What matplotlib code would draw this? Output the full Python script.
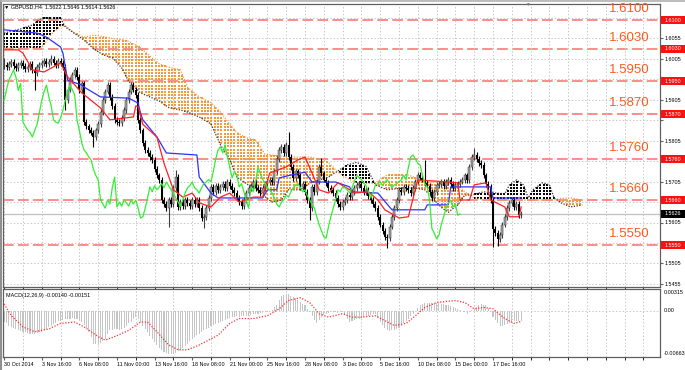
import numpy as np
import matplotlib
matplotlib.use("Agg")
import matplotlib.pyplot as plt
import matplotlib.transforms as mtransforms
from matplotlib.patches import Rectangle
from matplotlib.lines import Line2D

plt.rcParams['font.family'] = ['Liberation Sans', 'DejaVu Sans']

# GBPUSD H4 closes, pips above 1.5000, bar 0 = 30 Oct 2014 00:00
closes = [990, 985, 992, 998, 988, 982, 990, 995, 988, 980,
          985, 992, 978, 970, 985, 990, 995, 1000, 992, 998,
          1005, 996, 990, 1000, 995, 985, 904, 930, 953, 965,
          978, 960, 928, 945, 850, 840, 831, 825, 814, 830,
          845, 875, 904, 925, 941, 912, 890, 856, 850, 848,
          861, 880, 904, 925, 941, 930, 917, 856, 830, 800,
          782, 775, 765, 758, 735, 720, 709, 660, 650, 640,
          660, 650, 690, 716, 643, 655, 645, 660, 653, 645,
          660, 650, 660, 640, 616, 619, 640, 665, 692, 680,
          695, 685, 692, 700, 690, 704, 695, 685, 677, 665,
          655, 645, 660, 677, 690, 695, 704, 690, 685, 677,
          690, 700, 704, 710, 704, 730, 760, 782, 790, 775,
          795, 765, 740, 714, 730, 720, 692, 700, 680, 660,
          640, 692, 680, 705, 741, 725, 710, 702, 690, 685,
          677, 665, 650, 643, 655, 660, 672, 667, 680, 690,
          697, 700, 690, 680, 685, 670, 660, 650, 640, 619,
          600, 585, 570, 567, 595, 619, 640, 660, 685, 680,
          692, 690, 685, 677, 690, 705, 721, 715, 710, 702,
          695, 680, 665, 680, 697, 700, 704, 695, 704, 710,
          700, 690, 697, 700, 705, 709, 720, 709, 740, 765,
          770, 760, 750, 745, 720, 700, 692, 660, 590, 579,
          565, 574, 600, 619, 640, 653, 660, 643, 650, 623,
          626]
first_open = 988
hi_bars = [0, 20, 54, 73, 121, 135, 179, 200]
hi_vals = [1007, 1015, 948, 733, 826, 763, 758, 787]
lo_bars = [13, 26, 38, 70, 85, 130, 163, 208, 210]
lo_vals = [929, 880, 790, 594, 591, 611, 543, 545, 548]

kijun_bars = [0, 14, 18, 24, 25, 27, 33, 34, 41, 53, 57, 58, 59, 65, 69, 82, 83, 88, 91,
              110, 112, 116, 117, 122, 128, 131, 141, 147, 148, 159, 165, 179, 180, 189,
              190, 207, 208, 220]
kijun = [1076, 1068, 1058, 1034, 1019, 953, 941, 936, 912, 909, 897, 873, 856, 814, 775,
         770, 716, 677, 665, 665, 685, 685, 714, 721, 728, 704, 704, 692, 680, 677, 636,
         636, 648, 648, 692, 692, 665, 665]

tenkan_bars = [0, 6, 8, 12, 17, 24, 27, 33, 41, 45, 55, 56, 57, 59, 65, 68, 72, 76, 80,
               83, 88, 92, 96, 100, 106, 110, 113, 120, 125, 128, 131, 134, 138, 142, 147,
               149, 155, 159, 162, 168, 172, 176, 189, 193, 194, 198, 200, 205, 207, 213,
               215, 219, 220]
tenkan = [1027, 1027, 1019, 978, 973, 995, 961, 922, 885, 856, 863, 890, 888, 845, 814,
          750, 685, 667, 677, 653, 643, 667, 677, 655, 667, 667, 726, 741, 758, 765, 726,
          685, 677, 702, 685, 677, 680, 660, 636, 616, 619, 709, 704, 702, 660, 660, 697,
          702, 660, 643, 619, 619, 643]

cloud_bars = [0, 8, 12, 16, 20, 24, 26, 30, 34, 38, 42, 46, 50, 53, 58, 62, 66, 70, 75,
              78, 83, 88, 92, 96, 99, 103, 107, 111, 114, 118, 121, 126, 130, 134, 138,
              142, 146, 150, 154, 158, 163, 168, 172, 176, 179, 183, 186, 189, 193, 196,
              199, 204, 209, 213, 215, 218, 221, 223, 225, 229, 232, 234, 237, 241, 246]
span_a = [1068, 1080, 1088, 1105, 1105, 1105, 1083, 1067, 1051, 1030, 1015, 1008, 983,
          950, 922, 912, 902, 886, 880, 875, 863, 846, 795, 758, 716, 700, 688, 668, 655,
          660, 685, 685, 701, 709, 716, 731, 746, 752, 742, 697, 685, 688, 690, 688, 685,
          660, 642, 630, 648, 672, 672, 680, 677, 675, 697, 709, 697, 665, 685, 702, 697,
          665, 653, 643, 648]
span_b = [1032, 1032, 1032, 1032, 1065, 1085, 1086, 1068, 1058, 1063, 1060, 1055, 1052,
          1048, 1032, 1012, 993, 985, 978, 936, 912, 898, 875, 845, 825, 812, 806, 772,
          770, 767, 765, 765, 765, 760, 752, 728, 713, 702, 700, 702, 721, 721, 721, 712,
          702, 704, 702, 700, 697, 680, 667, 660, 660, 660, 660, 660, 660, 660, 660, 660,
          660, 660, 664, 665, 660]

# MACD(12,26,9) main, units of 0.0001
macd_hist = [-16, -18, -21, -23, -25, -26, -28, -29, -30, -31,
             -32, -33, -33, -33, -32, -31, -30, -28, -26, -23,
             -21, -19, -17, -15, -14, -13, -12, -11, -11, -10,
             -11, -12, -14, -16, -20, -25, -30, -38, -47, -48,
             -49, -46, -43, -40, -33, -28, -27, -26, -26, -27,
             -26, -24, -21, -18, -16, -12, -9, -12, -16, -21,
             -26, -30, -36, -41, -45, -49, -53, -56, -59, -61,
             -62, -62, -62, -60, -58, -56, -54, -50, -47, -43,
             -40, -38, -35, -33, -31, -28, -26, -24, -22, -20,
             -19, -17, -16, -14, -13, -12, -10, -9, -9, -8,
             -9, -8, -8, -8, -7, -6, -5, -4, -4, -3,
             -3, -2, -2, 0, 2, 5, 8, 15, 22, 23,
             24, 24, 22, 20, 19, 16, 13, 10, 8, 3,
             -2, -7, -13, -18, -13, -9, -6, -4, -3, -2,
             -2, -2, -3, -2, -2, -6, -11, -16, -15, -13,
             -12, -11, -10, -9, -8, -7, -6, -5, -4, -10,
             -16, -20, -24, -28, -29, -28, -28, -26, -24, -21,
             -17, -14, -11, -7, -4, 0, 4, 8, 10, 11,
             12, 12, 12, 12, 12, 11, 10, 10, 9, 8,
             7, 6, 4, 3, 1, 0, -2, -4, -1, 1,
             3, 6, 8, 10, 9, 8, 4, -2, -9, -13,
             -17, -21, -21, -20, -19, -17, -16, -14, -14, -14,
             -14]
sig_bars = [0, 3, 8, 13, 19, 24, 30, 34, 40, 43, 47, 53, 58, 61, 65, 70, 74, 78, 83, 91,
            96, 100, 106, 112, 117, 121, 126, 130, 134, 138, 144, 148, 152, 158, 162, 166,
            171, 175, 179, 184, 192, 196, 200, 204, 208, 213, 217, 220]
sig_vals = [10, -7, -23, -30, -26, -18, -16, -23, -37, -42, -37, -28, -16, -16, -30, -49,
            -56, -56, -49, -35, -18, -11, -11, -7, 3, 15, 19, 12, -4, -9, -4, -9, -9, -7,
            -14, -21, -18, -7, 5, 12, 15, 12, 3, 5, 3, -11, -18, -15]

levels = [1.6100, 1.6030, 1.5950, 1.5870, 1.5760, 1.5660, 1.5550]
price_ticks = [1.6105, 1.6055, 1.6005, 1.5955, 1.5905, 1.5855, 1.5805, 1.5755,
               1.5705, 1.5655, 1.5605, 1.5555, 1.5505, 1.5455]
date_labels = ["30 Oct 2014", "3 Nov 16:00", "6 Nov 08:00", "11 Nov 00:00", "13 Nov 16:00",
               "18 Nov 08:00", "21 Nov 00:00", "25 Nov 16:00", "28 Nov 08:00", "3 Dec 00:00",
               "5 Dec 16:00", "10 Dec 08:00", "15 Dec 00:00", "17 Dec 16:00"]
last_price = 1.5626
header = "\u25bc GBPUSD,H4  1.5622 1.5646 1.5614 1.5626"
macd_title = "MACD(12,26,9) -0.00140 -0.00151"
macd_top, macd_bot = 0.00315, -0.00663


def px(p):
    return 1.5 + np.asarray(p, dtype=float) / 10000.0


W, H = 685, 370
fig = plt.figure(figsize=(W / 100, H / 100), dpi=100)
ax = fig.add_axes([3 / W, 1 - 287 / H, 657 / W, 283 / H])
ax2 = fig.add_axes([3 / W, 13 / H, 657 / W, 68 / H])

# window border, left and top
fig.add_artist(Line2D([1 / W, 1 / W], [0, 1], color='#909090', lw=1.5))
fig.add_artist(Line2D([0, 1], [1 - 1 / H, 1 - 1 / H], color='#b0b0b0', lw=1.2))

xmin, xmax = -0.5, (660 - 4.2) / 2.35
pp = 0.055 / 225  # price per pixel
ax.set_xlim(xmin, xmax)
ax.set_ylim(1.61 - 267 * pp, 1.61 + 16 * pp)
ax2.set_xlim(xmin, xmax)
ax2.set_ylim(macd_bot, macd_top)

grid_kw = dict(color='#c8c8c8', ls=(0, (1.5, 2)), lw=0.7)
for a in (ax, ax2):
    a.set_xticks(np.arange(0, xmax, 8), minor=True)
    a.grid(True, which='minor', axis='x', **grid_kw)
    for s in a.spines.values():
        s.set_color('#606060')
        s.set_linewidth(0.9)

# price grid and right axis labels (the ones under the level tags are hidden)
hidden = [min(abs(t - lv) for lv in levels + [last_price]) < 8 * pp for t in price_ticks]
ax.set_yticks(price_ticks)
ax.set_yticklabels(['' if h else f"{t:.4f}" for t, h in zip(price_ticks, hidden)])
ax.grid(True, which='major', axis='y', **grid_kw)
ax.tick_params(axis='y', left=False, right=True, labelleft=False, labelright=True,
               labelsize=3.9, length=2, pad=1.5, color='#606060')
ax.set_xticks([])

# cloud (hatched with dots)
ca, cb = px(span_a), px(span_b)
xb = np.arange(0, cloud_bars[-1] + 0.01, 1.4)
yb = np.arange(1.54, 1.62, 3.2 * pp)
X, Y = np.meshgrid(xb, yb)
A = np.interp(X, cloud_bars, ca)
B = np.interp(X, cloud_bars, cb)
m_or = (Y > A) & (Y < B)
m_bk = (Y > B) & (Y < A)
ax.scatter(X[m_or], Y[m_or], s=0.6, marker='s', color='#f59a3c', lw=0, zorder=2)
ax.scatter(X[m_bk], Y[m_bk], s=0.8, marker='s', color='#000000', lw=0, zorder=2)
ax.plot(cloud_bars, cb, color='#f59a3c', ls=(0, (1, 1.2)), lw=0.9, zorder=2)
ax.plot(cloud_bars, ca, color='#303030', ls=(0, (1, 1.2)), lw=0.9, zorder=2)

# levels
trans = mtransforms.blended_transform_factory(ax.transAxes, ax.transData)
for lv in levels:
    ax.axhline(lv, color='#ff8c8c', ls=(0, (5.5, 2.2)), lw=1.4, zorder=1)
    ax.text((609 - 4.2) / 2.35, lv + 5 * pp, f"{lv:.4f}", color='#ff5a1e', fontsize=9.5,
            ha='left', va='bottom', zorder=6)
    ax.add_patch(Rectangle((1.0015, lv - 4 * pp), 24 / 657, 8 * pp, transform=trans,
                           facecolor='#ff1010', edgecolor='none', clip_on=False, zorder=7))
    ax.text(1.0015 + 12 / 657, lv, f"{lv:.4f}", transform=trans, color='white',
            fontsize=3.9, ha='center', va='center', clip_on=False, zorder=8)

# bid line
ax.axhline(last_price, color='#c0c0c0', lw=0.9, zorder=1)
ax.add_patch(Rectangle((1.0015, last_price - 4 * pp), 24 / 657, 8 * pp, transform=trans,
                       facecolor='black', edgecolor='none', clip_on=False, zorder=7))
ax.text(1.0015 + 12 / 657, last_price, f"{last_price:.4f}", transform=trans, color='white',
        fontsize=3.9, ha='center', va='center', clip_on=False, zorder=8)

# candles
c = px(closes)
n = len(c)
o = np.r_[px(first_open), c[:-1]]
wick = 7e-4
hi = np.maximum(o, c) + wick
lo = np.minimum(o, c) - wick
hi[hi_bars] = px(hi_vals)
lo[lo_bars] = px(lo_vals)
x = np.arange(n)
up = c >= o
ax.vlines(x[up], lo[up], hi[up], color='#404040', lw=0.8, zorder=3)
ax.vlines(x[~up], lo[~up], hi[~up], color='black', lw=0.8, zorder=3)
body = np.where(np.abs(c - o) < 1.5e-4, 1.5e-4, c - o)
ax.bar(x[up], body[up], bottom=o[up], width=0.85, color='#a8a8a8', edgecolor='#303030',
       lw=0.35, zorder=4)
ax.bar(x[~up], body[~up], bottom=o[~up], width=0.85, color='black', lw=0, zorder=4)

# ichimoku lines
ax.plot(kijun_bars, px(kijun), color='#3030ff', lw=0.9, zorder=5)
ax.plot(tenkan_bars, px(tenkan), color='#ff2020', lw=0.9, zorder=5)
ax.plot(x[:n - 26], c[26:], color='#33ee33', lw=0.9, zorder=5)

fig.text(4 / W, 1 - 7 / H, header, fontsize=3.9, ha='left', va='center')
fig.text(527 / W, 1 - 4 / H, '\u25bc', fontsize=3.5, color='#808080', ha='center', va='center')

# MACD panel
ax2.bar(np.arange(len(macd_hist)), np.asarray(macd_hist) * 1e-4, width=0.45,
        color='#c4c4c4', zorder=2)
ax2.plot(sig_bars, np.asarray(sig_vals) * 1e-4, color='#ff3030', ls=(0, (1, 1.3)), lw=0.9,
         zorder=3)
ax2.axhline(0, **grid_kw)
ax2.set_yticks([])
ax2.set_xticks(np.arange(len(date_labels)) * 16)
ax2.set_xticklabels(date_labels)
for lab in ax2.get_xticklabels():
    lab.set_ha('left')
ax2.tick_params(axis='x', labelsize=3.9, length=2, pad=1.5, color='#606060')
ax2.text(0.004, 0.94, macd_title, transform=ax2.transAxes, fontsize=3.9, ha='left', va='top')
ax2.text(1.005, 0.985, f"{macd_top:.5f}", transform=ax2.transAxes, fontsize=3.9, va='top')
ax2.text(1.005, -macd_bot / (macd_top - macd_bot), "0.00", transform=ax2.transAxes,
         fontsize=3.9, va='center')
ax2.text(1.005, 0.01, f"{macd_bot:.5f}", transform=ax2.transAxes, fontsize=3.9, va='bottom')

fig.savefig('out.png', dpi=100)
